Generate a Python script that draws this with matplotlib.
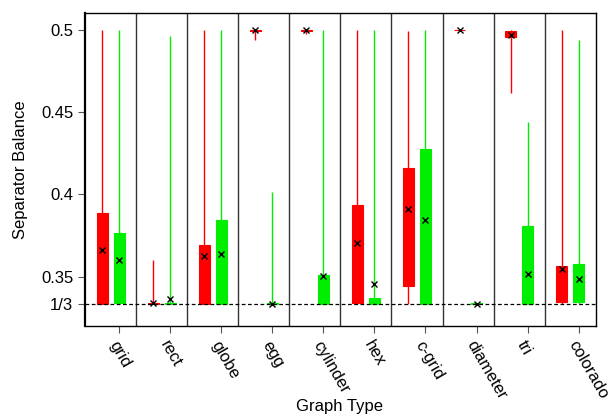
import matplotlib
matplotlib.use("Agg")
import matplotlib.pyplot as plt
import numpy as np

plt.rcParams["font.family"] = ["Liberation Sans", "DejaVu Sans"]

graphs = ["grid", "rect", "globe", "egg", "cylinder", "hex", "c-grid", "diameter", "tri", "colorado"]

# per graph type: whisker low/high, box q1/q3, mean (x marker)
red_lo = [0.3334, 0.3333, 0.3334, 0.4937, 0.4976, 0.3334, 0.3334, 0.4995, 0.4617, 0.3334]
red_q1 = [0.3336, 0.3333, 0.3336, 0.4995, 0.4995, 0.3342, 0.3443, 0.4998, 0.4955, 0.3348]
red_q3 = [0.3885, 0.3340, 0.3695, 0.5000, 0.5000, 0.3934, 0.4163, 0.5000, 0.4994, 0.3567]
red_hi = [0.5000, 0.3602, 0.5000, 0.5000, 0.5000, 0.5000, 0.4994, 0.5000, 0.5000, 0.5000]
red_mean = [0.3662, 0.3342, 0.3626, 0.4998, 0.4998, 0.3705, 0.3910, 0.4999, 0.4970, 0.3545]

green_lo = [0.3334, 0.3333, 0.3334, 0.3333, 0.3334, 0.3334, 0.3334, 0.3333, 0.3334, 0.3334]
green_q1 = [0.3338, 0.3333, 0.3336, 0.3333, 0.3334, 0.3334, 0.3334, 0.3333, 0.3334, 0.3348]
green_q3 = [0.3766, 0.3338, 0.3843, 0.3337, 0.3508, 0.3371, 0.4278, 0.3337, 0.3808, 0.3579]
green_hi = [0.5000, 0.4964, 0.5000, 0.4013, 0.5000, 0.5000, 0.5000, 0.3336, 0.4441, 0.4939]
green_mean = [0.3604, 0.3363, 0.3638, 0.3334, 0.3504, 0.3454, 0.3847, 0.3334, 0.3515, 0.3488]

yticks = [1 / 3, 0.35, 0.4, 0.45, 0.5]
ytick_labels = ["1/3", "0.35", "0.4", "0.45", "0.5"]

RED = "#ff0000"
GREEN = "#00ee00"
BOX_W = 0.215

fig = plt.figure(figsize=(6.08, 4.19), dpi=100)
ax = fig.add_axes([0.1398, 0.222, 0.840, 0.7463])

idx = np.arange(len(graphs))
series = [
    (idx + 1 / 3, red_lo, red_q1, red_q3, red_hi, red_mean, RED),
    (idx + 2 / 3, green_lo, green_q1, green_q3, green_hi, green_mean, GREEN),
]
for xs, lo, q1, q3, hi, mean, col in series:
    ax.vlines(xs, lo, hi, colors=col, lw=1.0, zorder=2)
    ax.bar(xs, np.array(q3) - np.array(q1), bottom=q1, width=BOX_W,
           color=col, edgecolor=col, lw=0.8, zorder=3)
    ax.plot(xs, mean, ls="none", marker="x", ms=5, mew=1.0, color="black", zorder=4)

# group separators
for k in range(1, len(graphs)):
    ax.axvline(k, color="#333333", lw=1.0, zorder=1)

ax.axhline(1 / 3, color="black", ls=(0, (3, 2)), lw=0.9, zorder=5)

ax.set_xlim(0, len(graphs))
ax.set_ylim(0.3200, 0.5101)
ax.set_yticks(yticks)
ax.set_yticklabels(ytick_labels)
ax.set_xticks(idx + 2 / 3)
ax.set_xticklabels(graphs, rotation=-60, ha="left", va="top", rotation_mode="anchor")
ax.tick_params(axis="both", labelsize=12, length=5, width=0.8, color="#555555")
ax.tick_params(axis="x", pad=4)
for s in ax.spines.values():
    s.set_linewidth(1.0)
ax.spines["left"].set_linewidth(1.6)

ax.set_xlabel("Graph Type", fontsize=12)
ax.xaxis.set_label_coords(0.499, -0.232)
ax.set_ylabel("Separator Balance", fontsize=12)
ax.yaxis.set_label_coords(-0.112, 0.5)

fig.savefig("out.png", dpi=100)
